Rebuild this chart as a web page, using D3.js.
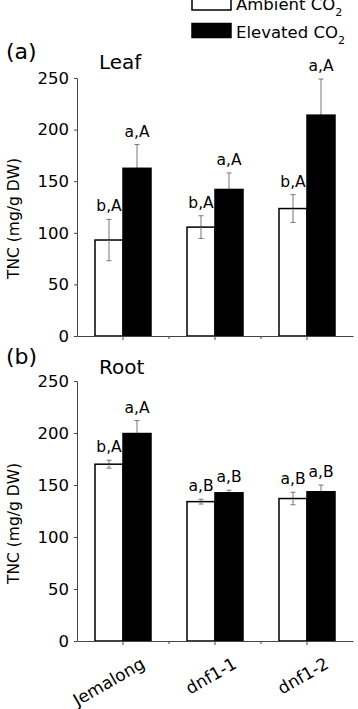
<!DOCTYPE html>
<html>
<meta charset="utf-8">
<script src="https://cdn.jsdelivr.net/npm/d3@7"></script>
<style>
body{ margin:0; background:white; }
text{ font-family:"DejaVu Sans", sans-serif; fill:black; }
.axis path, .axis line{ stroke:#444; stroke-width:1; }
.axis text{ font-size:16.5px; font-family:"DejaVu Sans", sans-serif; fill:black; }
.err{ stroke:#777; stroke-width:1; }
</style>
<body>
<div id="chart"></div>
<script>
// genotypes and CO2 treatments
var genotypes = ["Jemalong","dnf1-1","dnf1-2"];
var treatments = ["Ambient","Elevated"];
var yTicks = [0,50,100,150,200,250];

// (a) leaf TNC, mg/g DW
var leafAmbient  = [93, 105.5, 123.5];
var leafElevated = [162.5, 142, 214];
var leafAmbientErr  = [20, 11, 13.5];
var leafElevatedErr = [23, 16, 35];
var leafAmbientLbl  = ["b,A","b,A","b,A"];
var leafElevatedLbl = ["a,A","a,A","a,A"];

// (b) root TNC, mg/g DW
var rootAmbient  = [170, 134, 137];
var rootElevated = [199.5, 142.5, 143.5];
var rootAmbientErr  = [3.8, 2.3, 6];
var rootElevatedErr = [12.5, 2.5, 6.4];
var rootAmbientLbl  = ["b,A","a,B","a,B"];
var rootElevatedLbl = ["a,A","a,B","a,B"];

var width = 358, height = 709;
var svg = d3.select("#chart").append("svg").attr("width",width).attr("height",height);

var x = d3.scaleBand().domain(genotypes).range([77,353]);
var bw = x.bandwidth();
var barW = 28;
var sub = d3.scaleBand().domain(treatments).range([bw/2-barW, bw/2+barW]);
var fills = {Ambient:"white", Elevated:"black"};

function panel(y, amb, ele, ambErr, eleErr, ambLbl, eleLbl, tag, title, off, showNames){
  var rows = [];
  genotypes.forEach(function(g,i){
    rows.push({g:g, t:"Ambient", v:amb[i], e:ambErr[i], l:ambLbl[i]});
    rows.push({g:g, t:"Elevated", v:ele[i], e:eleErr[i], l:eleLbl[i]});
  });

  var g = svg.append("g");

  // error bars first so the bars cover the lower half
  var eb = g.selectAll(".eb").data(rows).enter().append("g");
  function cx(d){ return x(d.g) + sub(d.t) + sub.bandwidth()/2; }
  eb.append("line").attr("class","err")
    .attr("x1",cx).attr("x2",cx)
    .attr("y1",function(d){return y(d.v+d.e)}).attr("y2",function(d){return y(d.v-d.e)});
  eb.append("line").attr("class","err")
    .attr("x1",function(d){return cx(d)-2.5}).attr("x2",function(d){return cx(d)+2.5})
    .attr("y1",function(d){return y(d.v+d.e)}).attr("y2",function(d){return y(d.v+d.e)});

  g.selectAll(".bar").data(rows).enter().append("rect")
    .attr("x",function(d){return x(d.g)+sub(d.t)})
    .attr("width",sub.bandwidth())
    .attr("y",function(d){return y(d.v)})
    .attr("height",function(d){return y(0)-y(d.v)})
    .attr("fill",function(d){return fills[d.t]})
    .attr("stroke","black").attr("stroke-width",1.5);

  // white bars: draw lower whisker again on top
  g.selectAll(".lo").data(rows.filter(function(d){return d.t=="Ambient"})).enter().append("g")
    .each(function(d){
      var s = d3.select(this);
      s.append("line").attr("class","err").attr("x1",cx(d)).attr("x2",cx(d))
        .attr("y1",y(d.v)).attr("y2",y(d.v-d.e));
      s.append("line").attr("class","err").attr("x1",cx(d)-2.5).attr("x2",cx(d)+2.5)
        .attr("y1",y(d.v-d.e)).attr("y2",y(d.v-d.e));
    });

  g.selectAll(".lbl").data(rows).enter().append("text")
    .attr("x",cx).attr("y",function(d){return y(d.v+d.e)-8})
    .attr("text-anchor","middle").style("font-size","15.5px")
    .text(function(d){return d.l});

  // axes
  g.append("g").attr("class","axis").attr("transform","translate(77,0)")
    .call(d3.axisLeft(y).tickValues(yTicks).tickSize(3).tickSizeOuter(0).tickPadding(5));

  var xa = g.append("g").attr("class","axis").attr("transform","translate(0,"+y(0)+")")
    .call(d3.axisBottom(x).tickSize(4).tickSizeOuter(0).tickFormat(showNames ? null : ""));
  xa.selectAll(".minor").data(genotypes.slice(1)).enter().append("line")
    .attr("x1",function(d){return x(d)}).attr("x2",function(d){return x(d)})
    .attr("y1",0).attr("y2",3).attr("stroke","#444");
  if(showNames){
    xa.selectAll(".tick text")
      .attr("text-anchor","end").attr("y",0).attr("dy",0)
      .attr("transform","translate(23,26) rotate(-30)")
      .style("font-size","17px");
  }

  g.append("text").attr("transform","translate(19,"+(off+218.5)+") rotate(-90)")
    .attr("text-anchor","middle").style("font-size","15.5px").text("TNC (mg/g DW)");
  g.append("text").attr("x",6).attr("y",off+59).style("font-size","22px").text(tag);
  g.append("text").attr("x",99).attr("y",off+69).style("font-size","20px").text(title);
}

var yLeaf = d3.scaleLinear().domain([0,250]).range([336,78]);
var yRoot = d3.scaleLinear().domain([0,250]).range([641,381]);

panel(yLeaf, leafAmbient, leafElevated, leafAmbientErr, leafElevatedErr, leafAmbientLbl, leafElevatedLbl, "(a)", "Leaf", 0, false);
panel(yRoot, rootAmbient, rootElevated, rootAmbientErr, rootElevatedErr, rootAmbientLbl, rootElevatedLbl, "(b)", "Root", 305, true);

// legend
var leg = svg.append("g").selectAll("g").data(treatments).enter().append("g")
  .attr("transform",function(d,i){return "translate(192,"+(i*27.5-4)+")"});
leg.append("rect").attr("width",39).attr("height",14)
  .attr("fill",function(d){return fills[d]}).attr("stroke","black").attr("stroke-width",1.5);
var lt = leg.append("text").attr("x",44).attr("y",14).style("font-size","16.5px");
lt.append("tspan").text(function(d){return d+" CO"});
lt.append("tspan").attr("dy",6).style("font-size","11px").text("2");
</script>
</body>
</html>
